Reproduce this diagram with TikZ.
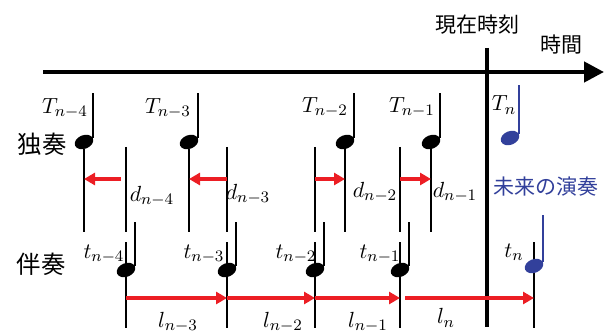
\documentclass[tikz,border=0pt]{standalone}
\usepackage{xcolor}
\usepackage{fontspec}
\newfontfamily\jpfont{Noto Sans CJK JP}
\usepackage{tikz}
\usetikzlibrary{arrows.meta,shapes.geometric,backgrounds}

\definecolor{arrred}{RGB}{236,30,36}
\definecolor{notblue}{RGB}{50,64,155}

\begin{document}
\begin{tikzpicture}[
  x=0.5pt, y=-0.5pt,
  head/.style={ellipse, fill=#1, draw=none, minimum width=9.6pt, minimum height=6.8pt, inner sep=0pt, outer sep=0pt, rotate=22},
  head/.default=black,
  stem/.style={line width=1.4pt},
  tline/.style={line width=0.6pt},
  nowline/.style={line width=2pt},
  timeaxis/.style={line width=2.2pt, -{Triangle[length=10pt,width=10pt]}},
  redarrow/.style={draw=arrred, line width=1.6pt, -{Triangle[length=5.5pt,width=6pt]}},
  lbl/.style={inner sep=0pt, font=\fontsize{11}{13}\selectfont},
  jlbl/.style={inner sep=0pt, font=\fontsize{10.5}{12}\selectfont\jpfont}
]
\useasboundingbox (0,0) rectangle (608,331);

% Rows
\coordinate (soloTop) at (0,147);
\coordinate (soloBot) at (0,232);
\coordinate (accTop) at (0,242);
\coordinate (accBot) at (0,328);
\coordinate (soloStem) at (0,93);
\coordinate (accStem) at (0,222);
\coordinate (dRow) at (0,179);
\coordinate (lRow) at (0,298);

% Time axis and present
\coordinate (axL) at (43,72);
\coordinate (axR) at (604,72);
\coordinate (nowT) at (487,48);
\coordinate (nowB) at (487,327);
\draw[timeaxis] (axL) -- (axR);
\draw[nowline] (nowT) -- (nowB);
\node[jlbl] (now) at (477,25) {現在時刻};
\node[jlbl] (time) at (561,45) {時間};

% Parts
\node[jlbl, font=\fontsize{12.2}{14}\selectfont\jpfont] (solo) at (42,144) {独奏};
\node[jlbl, font=\fontsize{12.2}{14}\selectfont\jpfont] (accomp) at (41,264) {伴奏};
\node[jlbl, text=notblue] (future) at (546,187) {未来の演奏};

% Solo notes
\node[head] (S4) at (84,142) {};
\node[head] (S3) at (189,142) {};
\node[head] (S2) at (345,142) {};
\node[head] (S1) at (431,142) {};
\node[head=notblue] (S0) at (510,138) {};
\draw[stem] (S4.east) -- (S4.east |- soloStem);
\draw[stem] (S3.east) -- (S3.east |- soloStem);
\draw[stem] (S2.east) -- (S2.east |- soloStem);
\draw[stem] (S1.east) -- (S1.east |- soloStem);
\draw[stem, notblue] (S0.east) -- ++(0,-49);

% Accompaniment notes
\node[head] (A4) at (126,270) {};
\node[head] (A3) at (227,270) {};
\node[head] (A2) at (315,270) {};
\node[head] (A1) at (400,270) {};
\node[head=notblue] (A0) at (534,266) {};
\draw[stem] (A4.east) -- (A4.east |- accStem);
\draw[stem] (A3.east) -- (A3.east |- accStem);
\draw[stem] (A2.east) -- (A2.east |- accStem);
\draw[stem] (A1.east) -- (A1.east |- accStem);
\draw[stem, notblue] (A0.east) -- ++(0,-47);

% Time lines
\begin{scope}[on background layer]
  \foreach \s in {S4,S3,S2,S1}
    \draw[tline] (\s) -- (\s |- soloBot);
  \foreach \a in {A4,A3,A2,A1}
    \draw[tline] (\a |- soloTop) -- (\a |- soloBot);
  \foreach \a in {A4,A3,A2,A1,A0}
    \draw[tline] (\a |- accTop) -- (\a |- accBot);
\end{scope}

% Deviations d
\draw[redarrow, shorten <=2.5pt] (A4 |- dRow) -- (S4 |- dRow);
\draw[redarrow] (A3 |- dRow) -- (S3 |- dRow);
\draw[redarrow] (A2 |- dRow) -- (S2 |- dRow);
\draw[redarrow] (A1 |- dRow) -- (S1 |- dRow);

% Intervals l
\draw[redarrow] (A4 |- lRow) -- (A3 |- lRow);
\draw[redarrow] (A3 |- lRow) -- (A2 |- lRow);
\draw[redarrow] (A2 |- lRow) -- (A1 |- lRow);
\draw[redarrow, shorten <=2.5pt] (A1 |- lRow) -- (A0 |- lRow);

% Labels
\node[lbl] (T4) at (65,108) {$T_{n-4}$};
\node[lbl] (T3) at (168,108) {$T_{n-3}$};
\node[lbl] (T2) at (325,107) {$T_{n-2}$};
\node[lbl] (T1) at (412,107) {$T_{n-1}$};
\node[lbl] (T0) at (504,105) {$T_{n}$};
\node[lbl] (d4) at (152,196) {$d_{n-4}$};
\node[lbl] (d3) at (248,194) {$d_{n-3}$};
\node[lbl] (d2) at (375,192) {$d_{n-2}$};
\node[lbl] (d1) at (455,192) {$d_{n-1}$};
\node[lbl] (t4) at (104,254) {$t_{n-4}$};
\node[lbl] (t3) at (204,254) {$t_{n-3}$};
\node[lbl] (t2) at (296,254) {$t_{n-2}$};
\node[lbl] (t1) at (380,254) {$t_{n-1}$};
\node[lbl] (t0) at (514,252) {$t_{n}$};
\node[lbl] (l3) at (178,322) {$l_{n-3}$};
\node[lbl] (l2) at (283,322) {$l_{n-2}$};
\node[lbl] (l1) at (368,322) {$l_{n-1}$};
\node[lbl] (l0) at (446,318) {$l_{n}$};

\end{tikzpicture}
\end{document}
